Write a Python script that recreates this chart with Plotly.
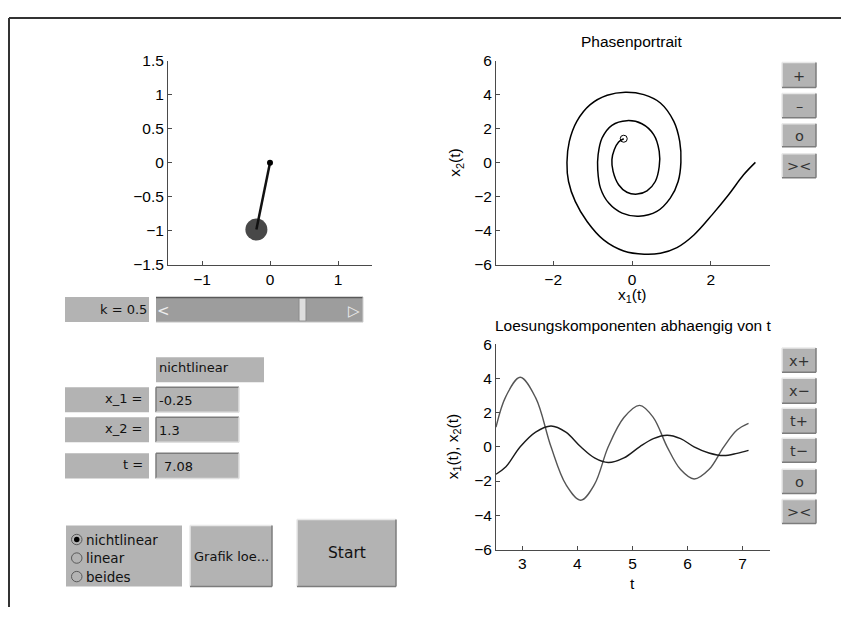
import plotly.graph_objects as go

# page body has an 8px margin: the figure fills the rest of the 849x623 window
PAD = 8
W, H = 849 - 2 * PAD, 623 - 2 * PAD
# measured vertical mapping of the photographed page: out = VOFF + VSCALE * y
VOFF, VSCALE = 9.8, 0.97

# ---------------- data ----------------
pivot_x = [0.0]
pivot_y = [0.0]
bob_x = [-0.2]
bob_y = [-0.98]

pend_xticks = [-1, 0, 1]
pend_xticktext = ["\u22121", "0", "1"]
pend_yticks = [-1.5, -1, -0.5, 0, 0.5, 1, 1.5]
pend_yticktext = ["\u22121.5", "\u22121", "\u22120.5", "0", "0.5", "1", "1.5"]

phase_x1 = [3.13, 2.83, 2.45, 2.03, 1.57, 1.14, 0.72, 0.31, -0.21, -0.72, -1.14, -1.44,
            -1.61, -1.65, -1.59, -1.40, -1.06, -0.63, -0.17, 0.30, 0.72, 1.06, 1.21,
            1.24, 1.17, 0.97, 0.63, 0.17, -0.25, -0.59, -0.80, -0.87, -0.86, -0.76,
            -0.51, -0.13, 0.25, 0.55, 0.69, 0.69, 0.59, 0.38, 0.13, -0.13, -0.34,
            -0.48, -0.51, -0.45, -0.34, -0.21]
phase_x2 = [0.02, -0.71, -1.88, -3.06, -4.24, -4.98, -5.31, -5.37, -5.18, -4.53, -3.45,
            -2.27, -1.10, 0.02, 1.25, 2.43, 3.41, 3.96, 4.14, 4.00, 3.51, 2.43, 1.25,
            0.02, -1.10, -2.08, -2.86, -3.14, -2.96, -2.37, -1.49, -0.41, 0.47, 1.45,
            2.20, 2.47, 2.29, 1.65, 0.67, -0.22, -1.10, -1.65, -1.84, -1.73, -1.29,
            -0.51, 0.18, 0.76, 1.22, 1.41]

phase_xticks = [-2, 0, 2]
phase_xticktext = ["\u22122", "0", "2"]
y6_ticks = [-6, -4, -2, 0, 2, 4, 6]
y6_ticktext = ["\u22126", "\u22124", "\u22122", "0", "2", "4", "6"]

t_vals = [2.52, 2.70, 2.96, 3.24, 3.52, 3.79, 4.06, 4.31, 4.56, 4.845, 5.13, 5.38, 5.63,
          5.875, 6.12, 6.39, 6.66, 6.90, 7.11]
x1_vals = [-1.60, -1.17, 0.0, 0.86, 1.22, 0.86, 0.0, -0.65, -0.92, -0.65, 0.0, 0.48,
           0.68, 0.48, 0.0, -0.36, -0.51, -0.38, -0.21]
x2_vals = [1.15, 2.95, 4.06, 2.87, 0.0, -2.20, -3.12, -2.20, 0.0, 1.71, 2.42, 1.71, 0.0,
           -1.33, -1.88, -1.33, 0.0, 0.98, 1.37]

time_xticks = [3, 4, 5, 6, 7]
time_xticktext = ["3", "4", "5", "6", "7"]

# ---------------- helpers (target pixels -> paper) ----------------
def X(x):
    return (x - PAD) / W

def Y(y):
    yd = (y - VOFF) / VSCALE
    return 1 - (yd - PAD) / H

TICKFONT = dict(family="Liberation Sans, Arial, sans-serif", size=15.5, color="black")
GUIFONT = "DejaVu Sans, sans-serif"
AXC = "#4a4a4a"

def axis(domain, rng, tickvals, ticktext, anchor):
    return dict(domain=domain, range=rng, tickvals=tickvals, ticktext=ticktext,
                anchor=anchor, showline=True, linecolor=AXC, linewidth=1,
                ticks="inside", ticklen=4, tickcolor=AXC, tickwidth=1,
                showgrid=False, zeroline=False, tickfont=TICKFONT, fixedrange=True)

fig = go.Figure()

# pendulum
fig.add_trace(go.Scatter(x=bob_x, y=bob_y, mode="markers", xaxis="x", yaxis="y",
                         marker=dict(size=22, color="#484848"), hoverinfo="skip"))
fig.add_trace(go.Scatter(x=[pivot_x[0], bob_x[0]], y=[pivot_y[0], bob_y[0]], mode="lines",
                         xaxis="x", yaxis="y", line=dict(color="#111111", width=2.5),
                         hoverinfo="skip"))
fig.add_trace(go.Scatter(x=pivot_x, y=pivot_y, mode="markers", xaxis="x", yaxis="y",
                         marker=dict(size=6, color="black"), hoverinfo="skip"))

# phase portrait
fig.add_trace(go.Scatter(x=phase_x1, y=phase_x2, mode="lines", xaxis="x2", yaxis="y2",
                         line=dict(color="black", width=1.5, shape="spline", smoothing=1.0),
                         hoverinfo="skip"))
fig.add_trace(go.Scatter(x=[phase_x1[-1]], y=[phase_x2[-1]], mode="markers",
                         xaxis="x2", yaxis="y2",
                         marker=dict(size=7, symbol="circle-open", color="black",
                                     line=dict(width=1)), hoverinfo="skip"))

# time plot
fig.add_trace(go.Scatter(x=t_vals, y=x2_vals, mode="lines", xaxis="x3", yaxis="y3",
                         line=dict(color="#555555", width=1.4, shape="spline", smoothing=1.0),
                         hoverinfo="skip"))
fig.add_trace(go.Scatter(x=t_vals, y=x1_vals, mode="lines", xaxis="x3", yaxis="y3",
                         line=dict(color="#1a1a1a", width=1.4, shape="spline", smoothing=1.0),
                         hoverinfo="skip"))

shapes = []
annotations = []

def line(x0, y0, x1, y1, color, width=1):
    shapes.append(dict(type="line", xref="paper", yref="paper", x0=X(x0), y0=Y(y0),
                       x1=X(x1), y1=Y(y1), line=dict(color=color, width=width)))

def rect(x0, y0, x1, y1, fill, lc=None, lw=0):
    shapes.append(dict(type="rect", xref="paper", yref="paper", x0=X(x0), y0=Y(y0),
                       x1=X(x1), y1=Y(y1), fillcolor=fill, layer="below",
                       line=dict(color=lc if lc else fill, width=lw)))

def text(x, y, s, size=13, anchor="left", family=GUIFONT, color="#111111", angle=0):
    annotations.append(dict(x=X(x), y=Y(y), xref="paper", yref="paper", text=s,
                            showarrow=False, xanchor=anchor, yanchor="middle",
                            textangle=angle,
                            font=dict(family=family, size=size, color=color)))

GRAY = "#b3b3b3"

def raised(x0, y0, x1, y1):
    rect(x0, y0, x1, y1, GRAY)
    line(x0, y0, x1, y0, "#e8e8e8", 1.5)
    line(x0, y0, x0, y1, "#e8e8e8", 1.5)
    line(x0, y1, x1, y1, "#7c7c7c", 1.5)
    line(x1, y0, x1, y1, "#7c7c7c", 1.5)

def sunken(x0, y0, x1, y1):
    rect(x0, y0, x1, y1, GRAY)
    line(x0, y0, x1, y0, "#7c7c7c", 1.5)
    line(x0, y0, x0, y1, "#7c7c7c", 1.5)
    line(x0, y1, x1, y1, "#e0e0e0", 1.5)
    line(x1, y0, x1, y1, "#e0e0e0", 1.5)

# figure frame (as close to the corner as the page allows)
shapes.append(dict(type="line", xref="paper", yref="paper", x0=X(9), x1=1,
                   y0=1 - 1 / H, y1=1 - 1 / H, line=dict(color="#333333", width=2)))
shapes.append(dict(type="line", xref="paper", yref="paper", x0=X(9), x1=X(9),
                   y0=1 - 1 / H, y1=0, line=dict(color="#333333", width=2)))

# slider
rect(65, 297, 149, 322, GRAY)
text(149, 309.5, "k = 0.5", anchor="right")
rect(156, 297, 363, 322, "#9d9d9d")
line(156, 297.5, 363, 297.5, "#5a5a5a", 1.5)
line(363, 297, 363, 322, "#d0d0d0", 1)
line(156, 322, 363, 322, "#c8c8c8", 1)
rect(299, 298, 306, 321, "#dedede", "#8a8a8a", 1)
text(155, 311, "<", size=15, color="#eeeeee")
text(346, 311, "\u25b7", size=15, color="#eeeeee")

# text fields
rect(156, 357, 264, 382, GRAY)
text(157, 367.5, "nichtlinear")
for (y0, y1, lab, val, vx) in [(387, 412, "x_1 =", "-0.25", 157),
                              (417, 442, "x_2 =", "1.3", 157),
                              (453, 478, "t =", "7.08", 162)]:
    rect(65, y0, 149, y1, GRAY)
    text(145, (y0 + y1) / 2 - 1, lab, anchor="right")
    sunken(156, y0, 239, y1)
    text(vx, (y0 + y1) / 2 + 0.5, val)

# radio group
rect(66, 525, 182, 586, GRAY)
for i, (cy, lab) in enumerate([(539, "nichtlinear"), (557.5, "linear"), (576, "beides")]):
    shapes.append(dict(type="circle", xref="paper", yref="paper",
                       x0=X(71.5), x1=X(82), y0=Y(cy - 5.2), y1=Y(cy + 5.2),
                       line=dict(color="#5a5a5a", width=1)))
    if i == 0:
        shapes.append(dict(type="circle", xref="paper", yref="paper",
                           x0=X(74), x1=X(79.5), y0=Y(cy - 2.7), y1=Y(cy + 2.7),
                           fillcolor="black", line=dict(color="black", width=0)))
    text(84, cy, lab, size=13.5)

raised(190, 525, 272, 586)
text(231, 556, "Grafik loe...", anchor="center")
raised(297, 519, 396, 586)
text(346.5, 552, "Start", size=15.5, anchor="center")

# zoom buttons
for (y0, y1, lab) in [(63, 88, "+"), (94, 118, "\u2013"), (124, 147, "o"), (154, 178, "&gt;&lt;"),
                      (348, 372, "x+"), (378, 403, "x\u2212"), (408, 433, "t+"),
                      (438, 462, "t\u2212"), (469, 493, "o"), (499, 523, "&gt;&lt;")]:
    raised(782, y0, 816, y1)
    text(799, (y0 + y1) / 2 + 0.5, lab, size=14.5, anchor="center", color="#333333")

# titles and axis labels
TF = "Liberation Sans, Arial, sans-serif"
text(632, 42, "Phasenportrait", size=15.5, anchor="center", family=TF, color="black")
text(633, 325, "Loesungskomponenten abhaengig von t", size=15.5, anchor="center", family=TF,
     color="black")
text(632, 295, "x<sub>1</sub>(t)", size=15.5, anchor="center", family=TF, color="black")
text(456, 163, "x<sub>2</sub>(t)", size=15.5, anchor="center", family=TF, color="black",
     angle=-90)
text(632, 583, "t", size=15.5, anchor="center", family=TF, color="black")
text(453, 447, "x<sub>1</sub>(t), x<sub>2</sub>(t)", size=15.5, anchor="center", family=TF,
     color="black", angle=-90)

fig.update_layout(
    width=W, height=H, margin=dict(l=0, r=0, t=0, b=0), autosize=False,
    paper_bgcolor="white", plot_bgcolor="white", showlegend=False,
    xaxis=axis([X(168), X(372)], [-1.5, 1.5], pend_xticks, pend_xticktext, "y"),
    yaxis=axis([Y(265), Y(61)], [-1.5, 1.5], pend_yticks, pend_yticktext, "x"),
    xaxis2=axis([X(496), X(770)], [-3.45, 3.5], phase_xticks, phase_xticktext, "y2"),
    yaxis2=axis([Y(265), Y(61)], [-6, 6], y6_ticks, y6_ticktext, "x2"),
    xaxis3=axis([X(496), X(770)], [2.52, 7.5], time_xticks, time_xticktext, "y3"),
    yaxis3=axis([Y(549), Y(344)], [-6, 6], y6_ticks, y6_ticktext, "x3"),
    shapes=shapes, annotations=annotations,
)

fig.write_html("out.html", config={"displayModeBar": False, "responsive": False})
